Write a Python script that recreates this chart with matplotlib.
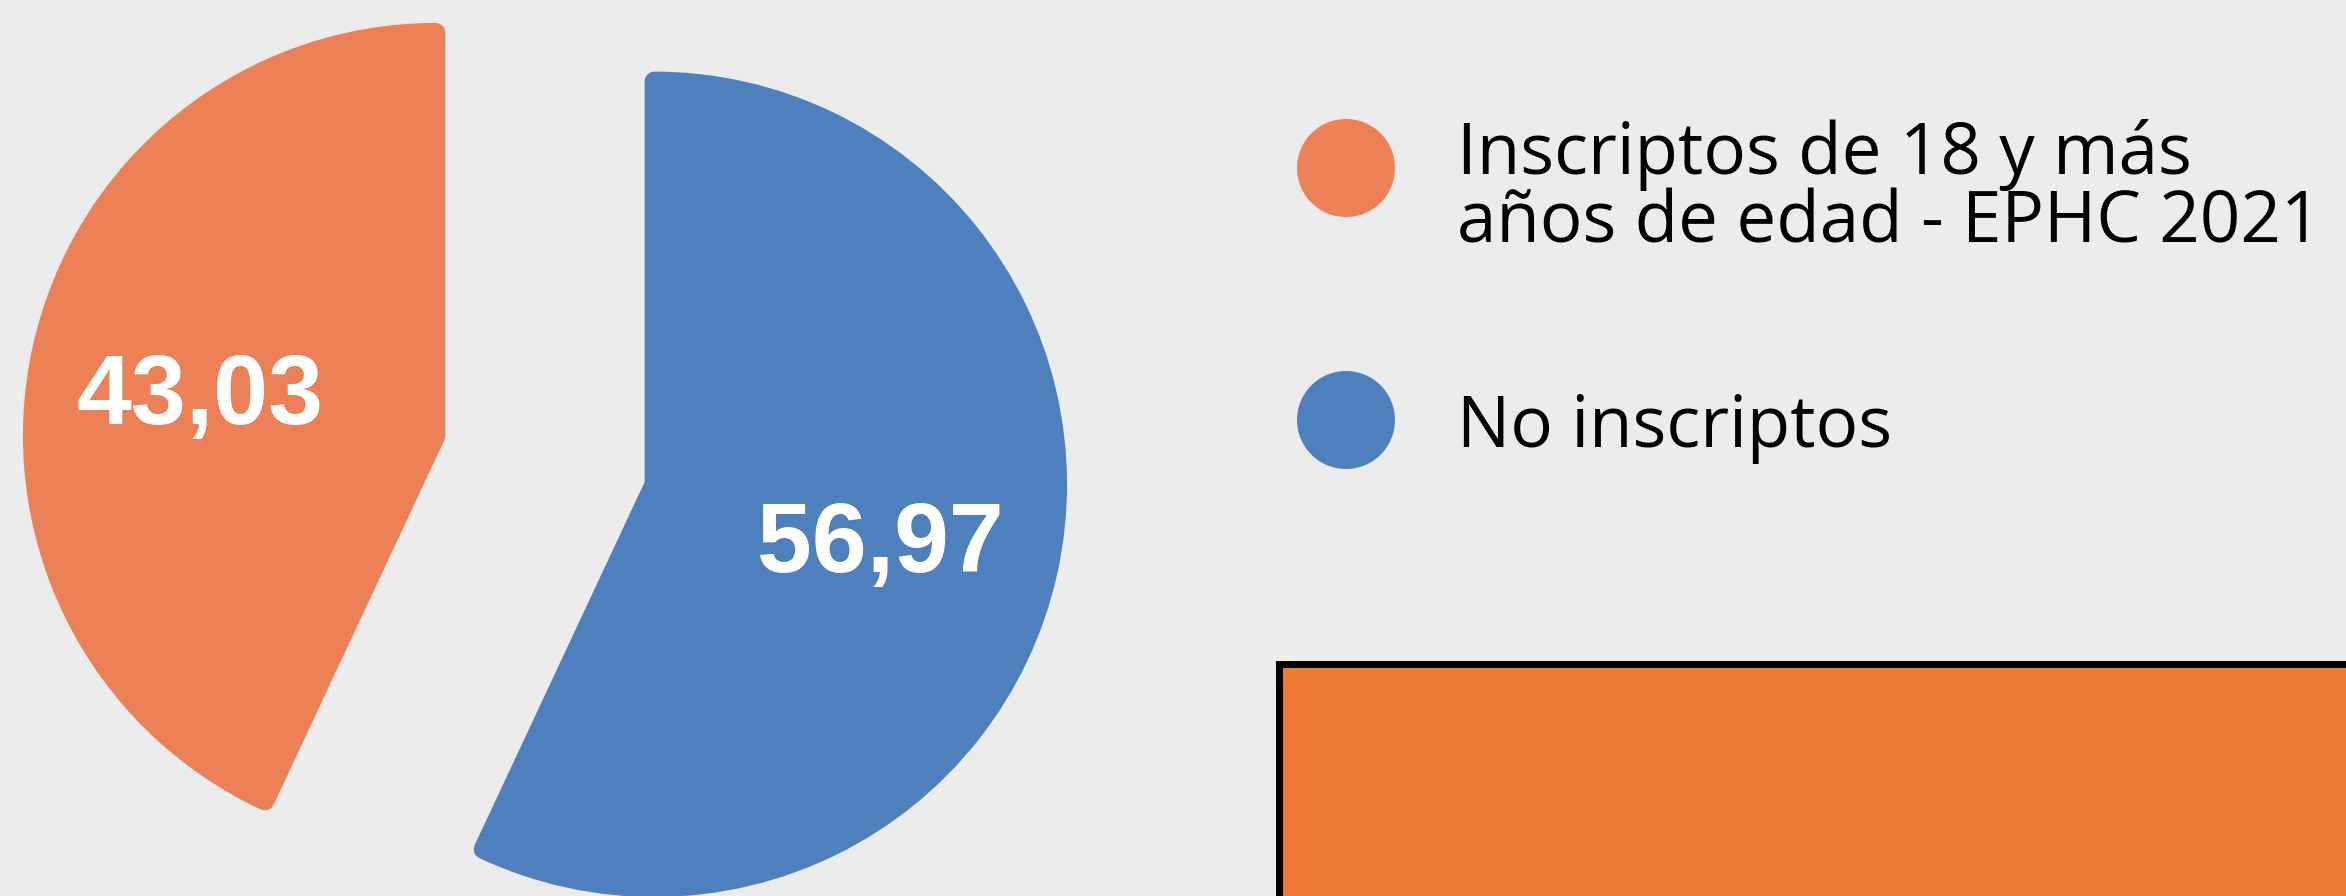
import matplotlib
matplotlib.use("Agg")
import matplotlib.pyplot as plt
from matplotlib.patches import Circle, Rectangle

# datos
categorias = ["Inscriptos de 18 y más\naños de edad - EPHC 2021", "No inscriptos"]
valores = [43.03, 56.97]
colores = ["#EC8157", "#4E80BE"]
fondo = "#ECECEC"

W, H = 2346, 896
fig = plt.figure(figsize=(W / 100, H / 100), dpi=100, facecolor=fondo)
ax = fig.add_axes([0, 0, 1, 1])
ax.set_facecolor(fondo)

# torta separada, esquinas redondeadas con borde del mismo color
# (explode va en unidades de datos, aqui pixeles)
wedges, textos, autotextos = ax.pie(
    valores,
    colors=colores,
    startangle=90,
    counterclock=True,
    center=(545, 436),
    radius=403,
    explode=[112, 112],
    autopct=lambda p: f"{p:.2f}".replace(".", ","),
    pctdistance=0.6,
    textprops=dict(color="white", fontsize=71, fontweight="bold", family="Liberation Sans"),
)
for w, c in zip(wedges, colores):
    w.set_edgecolor(c)
    w.set_linewidth(14)
    w.set_joinstyle("round")
# pequeño ajuste de las etiquetas
for t, (dx, dy) in zip(autotextos, [(0, -15), (-10, -10)]):
    px, py = t.get_position()
    t.set_position((px + dx, py + dy))

# leyenda manual
ley_x = 1346
ley_y = [896 - 168, 896 - 420]
for yy, c in zip(ley_y, colores):
    ax.add_patch(Circle((ley_x, yy), 49, facecolor=c, edgecolor="none"))

fuente = dict(family="Open Sans", fontsize=51, fontweight="medium", color="black",
              va="baseline", ha="left")
ax.text(1457, 896 - 174, "Inscriptos de 18 y más", **fuente)
ax.text(1457, 896 - 242, "años de edad - EPHC 2021", **fuente)
ax.text(1457, 896 - 447, categorias[1], **fuente)

# recuadro naranja inferior
ax.add_patch(Rectangle((1279, -50), 1200, 896 - 664 + 50, facecolor="#ED7B33",
                       edgecolor="black", linewidth=5))

ax.set_xlim(0, W)
ax.set_ylim(0, H)
ax.set_aspect("auto")
ax.axis("off")

fig.savefig("out.png", dpi=100, facecolor=fondo)
